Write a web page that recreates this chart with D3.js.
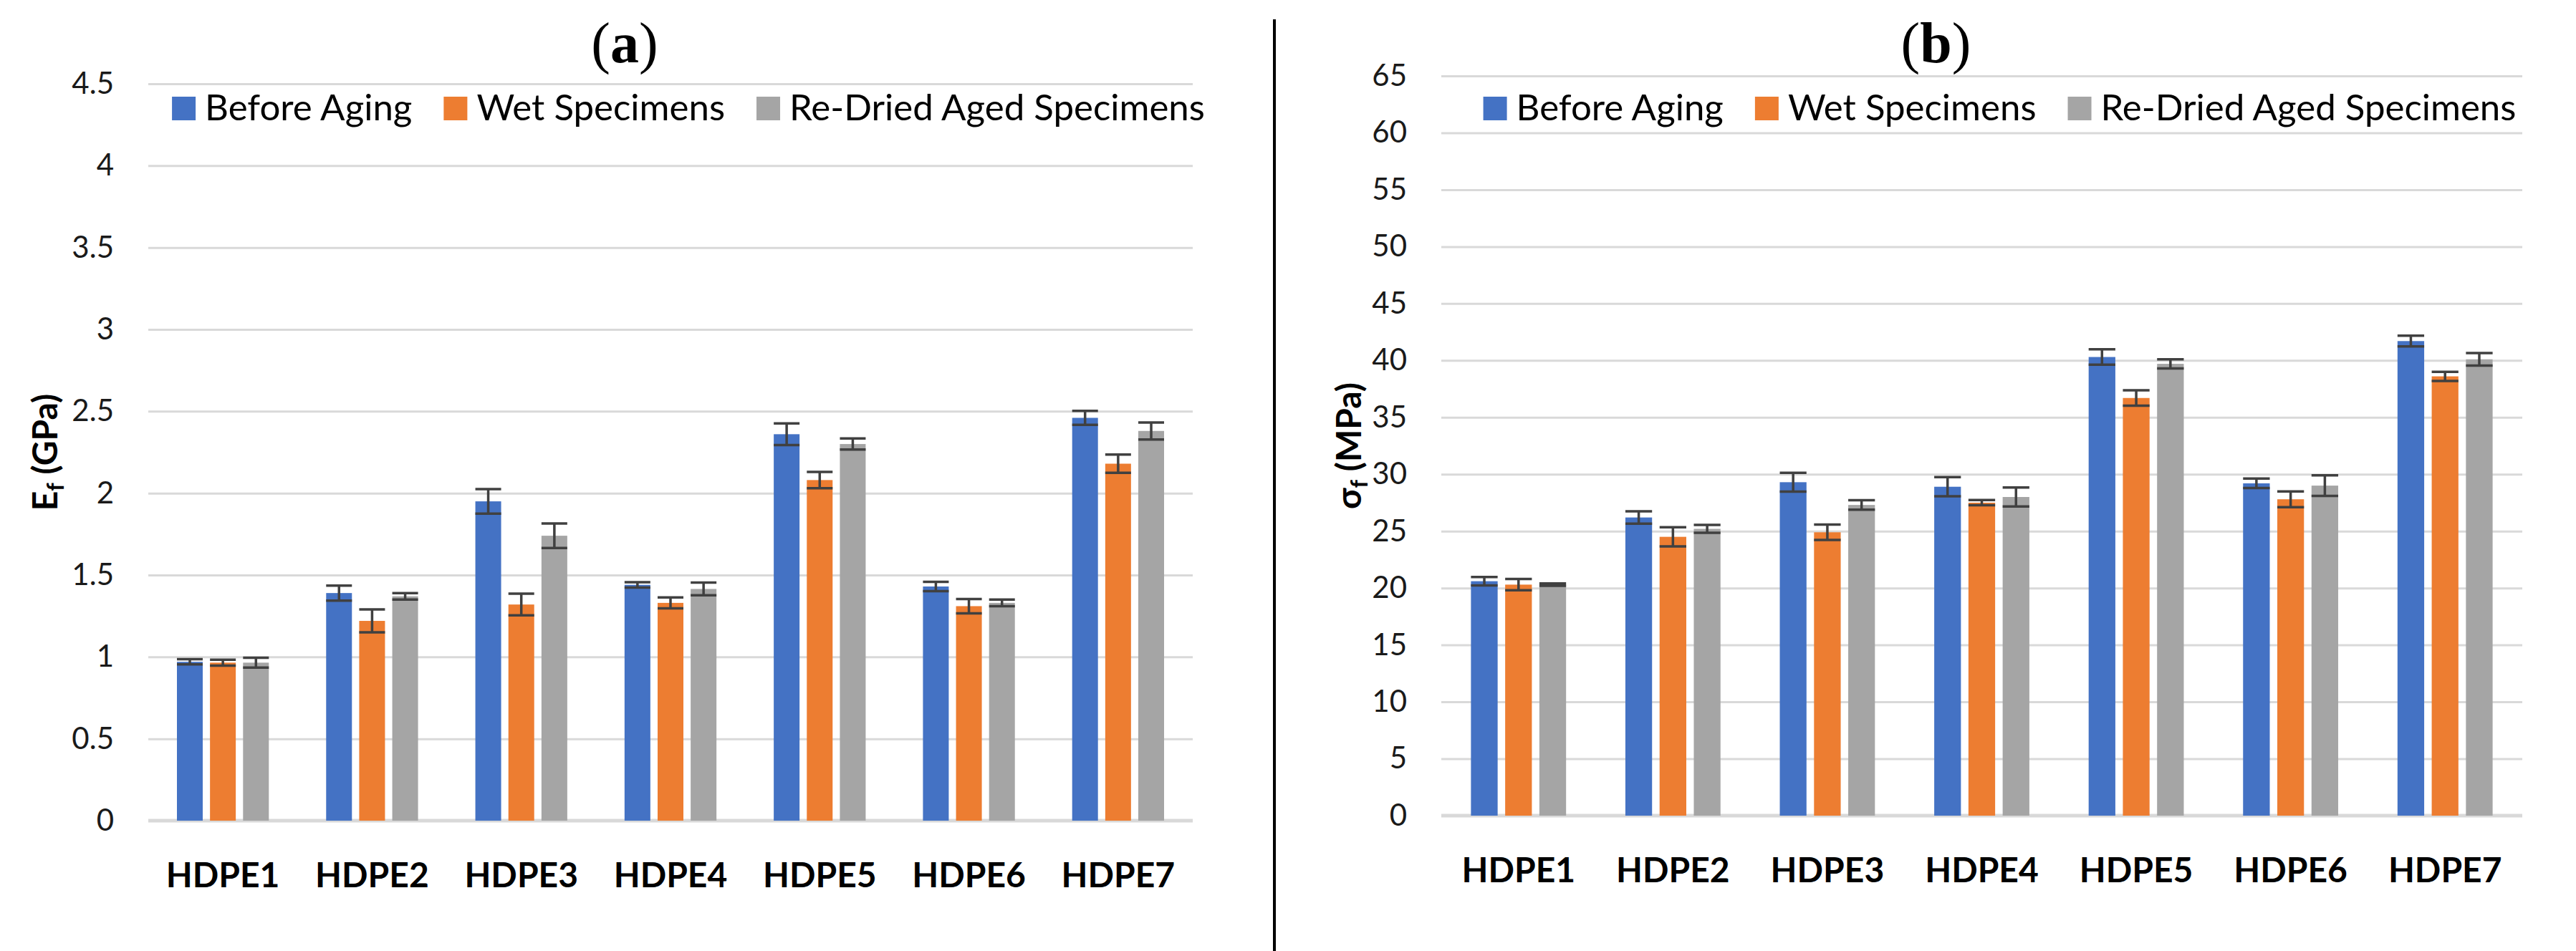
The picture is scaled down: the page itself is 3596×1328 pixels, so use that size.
<!DOCTYPE html>
<html>
<head>
<meta charset="utf-8">
<script src="https://cdn.jsdelivr.net/npm/d3@7"></script>
<style>
body { margin: 0; background: #ffffff; }
text { font-family: Lato, "Open Sans", sans-serif; }
</style>
</head>
<body>
<div id="chart"></div>
<script>
var categories = ["HDPE1", "HDPE2", "HDPE3", "HDPE4", "HDPE5", "HDPE6", "HDPE7"];
var series = ["Before Aging", "Wet Specimens", "Re-Dried Aged Specimens"];

// (a) flexural modulus, GPa
var modulusBefore  = [0.97, 1.39, 1.95, 1.44, 2.36, 1.43, 2.46];
var modulusWet     = [0.965, 1.22, 1.32, 1.33, 2.08, 1.31, 2.18];
var modulusRedried = [0.965, 1.37, 1.74, 1.415, 2.30, 1.33, 2.38];
var modulusBeforeErr  = [0.016, 0.046, 0.075, 0.016, 0.066, 0.028, 0.043];
var modulusWetErr     = [0.018, 0.07, 0.066, 0.033, 0.05, 0.044, 0.056];
var modulusRedriedErr = [0.03, 0.02, 0.075, 0.039, 0.034, 0.02, 0.052];
var modulusTicks = [0, 0.5, 1, 1.5, 2, 2.5, 3, 3.5, 4, 4.5];

// (b) flexural strength, MPa
var strengthBefore  = [20.6, 26.2, 29.3, 28.9, 40.3, 29.2, 41.7];
var strengthWet     = [20.3, 24.5, 24.9, 27.5, 36.7, 27.8, 38.6];
var strengthRedried = [20.3, 25.2, 27.3, 28.0, 39.7, 29.0, 40.1];
var strengthBeforeErr  = [0.37, 0.55, 0.82, 0.84, 0.68, 0.42, 0.47];
var strengthWetErr     = [0.49, 0.84, 0.68, 0.23, 0.68, 0.69, 0.4];
var strengthRedriedErr = [0.1, 0.35, 0.42, 0.84, 0.4, 0.9, 0.55];
var strengthTicks = [0, 5, 10, 15, 20, 25, 30, 35, 40, 45, 50, 55, 60, 65];

var width = 3596,
    height = 1328;
var colors = ["#4472C4", "#ED7D31", "#A5A5A5"];

var svg = d3.select("#chart").append("svg")
    .attr("width", width)
    .attr("height", height);

var panels = [
    { label: "a", left: 207, right: 1665, top: 117, bottom: 1146,
      ticks: modulusTicks,
      values: [modulusBefore, modulusWet, modulusRedried],
      errors: [modulusBeforeErr, modulusWetErr, modulusRedriedErr],
      axisMain: "E", axisSub: "f", axisUnit: " (GPa)", axisX: 80 },
    { label: "b", left: 2012, right: 3521, top: 106, bottom: 1139,
      ticks: strengthTicks,
      values: [strengthBefore, strengthWet, strengthRedried],
      errors: [strengthBeforeErr, strengthWetErr, strengthRedriedErr],
      axisMain: "\u03c3", axisSub: "f", axisUnit: " (MPa)", axisX: 1900 }
];

panels.forEach(drawPanel);

// divider between the two panels
svg.append("line")
    .attr("x1", 1779).attr("x2", 1779)
    .attr("y1", 27).attr("y2", height)
    .attr("stroke", "#000")
    .attr("stroke-width", 4);

function drawPanel(p) {
    var yMax = p.ticks[p.ticks.length - 1];
    var y = d3.scaleLinear().domain([0, yMax]).range([p.bottom, p.top]);
    var x0 = d3.scaleBand().domain(categories).range([p.left, p.right]);
    var bw = x0.bandwidth();
    var x1 = d3.scaleBand().domain(series)
        .range([bw * 0.192, bw * 0.808])
        .paddingInner(0.22);

    var g = svg.append("g");

    // gridlines
    g.append("g")
        .attr("transform", "translate(" + p.left + ",0)")
        .call(d3.axisLeft(y).tickValues(p.ticks).tickSize(-(p.right - p.left)).tickFormat(""))
        .call(function(a) {
            a.select(".domain").remove();
            a.selectAll("line").attr("stroke", "#d9d9d9").attr("stroke-width", 3);
        });

    // tick labels
    g.append("g")
        .attr("transform", "translate(" + (p.left - 48) + ",0)")
        .call(d3.axisLeft(y).tickValues(p.ticks).tickSize(0).tickPadding(0)
            .tickFormat(function(d) { return String(+d.toFixed(2)); }))
        .call(function(a) {
            a.select(".domain").remove();
            a.selectAll("text")
                .attr("fill", "#1a1a1a")
                .style("font-size", "42px")
                .style("font-family", "Lato, sans-serif");
        });

    // category axis line
    g.append("line")
        .attr("x1", p.left).attr("x2", p.right)
        .attr("y1", y(0)).attr("y2", y(0))
        .attr("stroke", "#d9d9d9")
        .attr("stroke-width", 5);

    // bars and error bars
    series.forEach(function(s, si) {
        var rows = categories.map(function(c, i) {
            return { cat: c, v: p.values[si][i], e: p.errors[si][i] };
        });
        var sg = g.append("g").attr("fill", colors[si]);
        sg.selectAll("rect")
            .data(rows)
            .enter().append("rect")
            .attr("x", function(d) { return x0(d.cat) + x1(s); })
            .attr("y", function(d) { return y(d.v); })
            .attr("width", x1.bandwidth())
            .attr("height", function(d) { return y(0) - y(d.v); });

        var eg = g.append("g")
            .attr("stroke", "#404040")
            .attr("stroke-width", 3.5)
            .attr("fill", "none");
        eg.selectAll("path")
            .data(rows)
            .enter().append("path")
            .attr("d", function(d) {
                var xl = x0(d.cat) + x1(s),
                    xr = xl + x1.bandwidth(),
                    xc = (xl + xr) / 2,
                    yh = y(d.v + d.e),
                    yl = y(d.v - d.e);
                return "M" + xc + "," + yh + "V" + yl +
                       "M" + xl + "," + yh + "H" + xr +
                       "M" + xl + "," + yl + "H" + xr;
            });
    });

    // category labels
    g.selectAll(".cat")
        .data(categories)
        .enter().append("text")
        .attr("class", "cat")
        .attr("x", function(d) { return x0(d) + bw / 2; })
        .attr("y", p.bottom + 93)
        .attr("text-anchor", "middle")
        .style("font-size", "48px")
        .style("font-weight", "bold")
        .attr("fill", "#000")
        .text(function(d) { return d; });

    // y axis title
    var cy = (p.top + p.bottom) / 2;
    var at = g.append("text")
        .attr("transform", "translate(" + p.axisX + "," + cy + ") rotate(-90)")
        .attr("text-anchor", "middle")
        .style("font-size", "48px")
        .style("font-weight", "bold")
        .attr("fill", "#000");
    at.append("tspan").text(p.axisMain);
    at.append("tspan").attr("dy", 9).style("font-size", "32px").text(p.axisSub);
    at.append("tspan").attr("dy", -9).text(p.axisUnit);

    // panel title
    var tt = g.append("text")
        .attr("x", (p.left + p.right) / 2 - 64)
        .attr("y", 87)
        .attr("text-anchor", "middle")
        .style("font-family", "'Liberation Serif', 'DejaVu Serif', serif")
        .style("font-size", "80px")
        .attr("fill", "#000");
    tt.append("tspan").text("(");
    tt.append("tspan").style("font-weight", "bold").text(p.label);
    tt.append("tspan").text(")");

    // legend
    var lg = g.append("g");
    var items = lg.selectAll("g")
        .data(series)
        .enter().append("g");
    items.append("rect")
        .attr("y", 135)
        .attr("width", 33)
        .attr("height", 33)
        .attr("fill", function(d, i) { return colors[i]; });
    items.append("text")
        .attr("x", 46)
        .attr("y", 168)
        .style("font-size", "51px")
        .attr("fill", "#000")
        .text(function(d) { return d; });
    var offs = [], cur = 0;
    items.each(function() {
        offs.push(cur);
        cur += 46 + d3.select(this).select("text").node().getComputedTextLength() + 44;
    });
    var total = cur - 44;
    var start = (p.left + p.right) / 2 + 25 - total / 2;
    items.attr("transform", function(d, i) { return "translate(" + (start + offs[i]) + ",0)"; });
}
</script>
</body>
</html>
